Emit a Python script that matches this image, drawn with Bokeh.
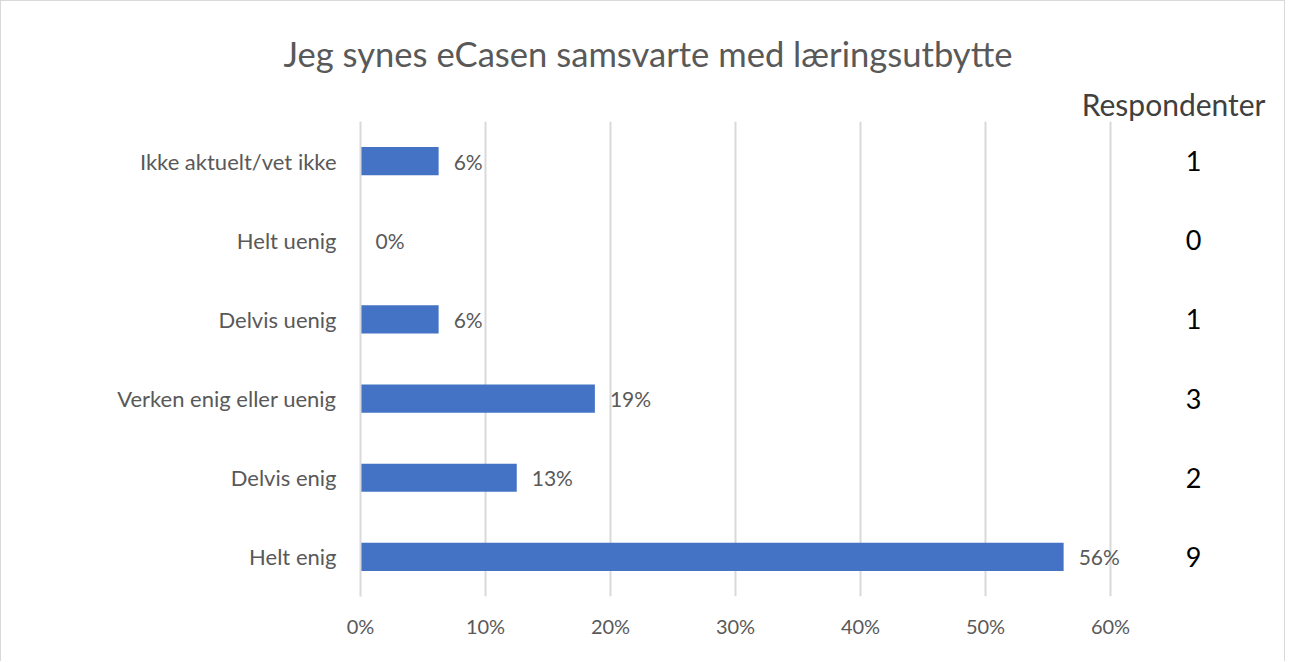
from bokeh.plotting import figure
from bokeh.models import FixedTicker, NumeralTickFormatter, ColumnDataSource, Range1d, FactorRange, Title
from bokeh.core.properties import value
from bokeh.embed import file_html
from bokeh.resources import INLINE

# ---- data (bottom to top) ----
categories = ["Helt enig", "Delvis enig", "Verken enig eller uenig",
              "Delvis uenig", "Helt uenig", "Ikke aktuelt/vet ikke"]
pct = [0.5625, 0.125, 0.1875, 0.0625, 0.0, 0.0625]
pct_labels = ["56%", "13%", "19%", "6%", "0%", "6%"]
respondents = ["9", "2", "3", "1", "0", "1"]
x_ticks = [0, 0.1, 0.2, 0.3, 0.4, 0.5, 0.6]
title_text = "Jeg synes eCasen samsvarte med læringsutbytte"
col_header = "Respondenter"

FONT = "Lato"
GRAY = "#595959"

src = ColumnDataSource(dict(cat=categories, pct=pct, lab=pct_labels,
                            resp=respondents, resp_x=[0.6664] * len(categories)))

p = figure(width=1285, height=661, output_backend="svg", toolbar_location=None,
           y_range=FactorRange(*categories), x_range=Range1d(0, 0.7408),
           min_border_left=359, min_border_right=0, min_border_top=120,
           min_border_bottom=66)
p.styles = {"border-top": "1px solid #d9d9d9", "border-left": "1px solid #d9d9d9",
            "border-right": "1px solid #d9d9d9"}
p.outline_line_color = None
p.background_fill_color = "white"
p.border_fill_color = "white"

# column header (inner above-panel) and main title (outer)
p.add_layout(Title(text=col_header, align="right", offset=21, standoff=0,
                   text_font=FONT, text_font_size="30px", text_font_style="normal",
                   text_color="#404040"), "above")
p.title.text = title_text
p.title.align = "left"
p.title.offset = -77
p.title.standoff = 19
p.title.text_font = FONT
p.title.text_font_size = "34.6px"
p.title.text_font_style = "normal"
p.title.text_color = GRAY

p.hbar(y="cat", right="pct", left=0, height=0.355, source=src,
       fill_color="#4472C4", line_color=None)

p.text(x="pct", y="cat", text="lab", source=src, x_offset=15,
       text_baseline="middle", text_align="left", text_font=value(FONT),
       text_font_size="21px", text_color=GRAY)

p.text(x="resp_x", y="cat", text="resp", source=src,
       text_baseline="middle", text_align="center", text_font=value(FONT),
       text_font_size="27px", text_color="black")

# axes
p.xaxis.ticker = FixedTicker(ticks=x_ticks)
p.xaxis.formatter = NumeralTickFormatter(format="0%")
p.xaxis.axis_line_color = None
p.xaxis.major_tick_line_color = None
p.xaxis.minor_tick_line_color = None
p.xaxis.major_label_standoff = 11
p.xaxis.major_label_text_font = FONT
p.xaxis.major_label_text_font_size = "20px"
p.xaxis.major_label_text_color = GRAY

p.yaxis.axis_line_color = "#d9d9d9"
p.yaxis.axis_line_width = 2
p.yaxis.major_tick_line_color = None
p.yaxis.minor_tick_line_color = None
p.yaxis.major_label_standoff = 18
p.yaxis.major_label_text_font = FONT
p.yaxis.major_label_text_font_size = "22px"
p.yaxis.major_label_text_color = GRAY

p.xgrid.grid_line_color = "#d9d9d9"
p.xgrid.grid_line_width = 2
p.ygrid.grid_line_color = None

open("out.html", "w").write(file_html(p, INLINE))
